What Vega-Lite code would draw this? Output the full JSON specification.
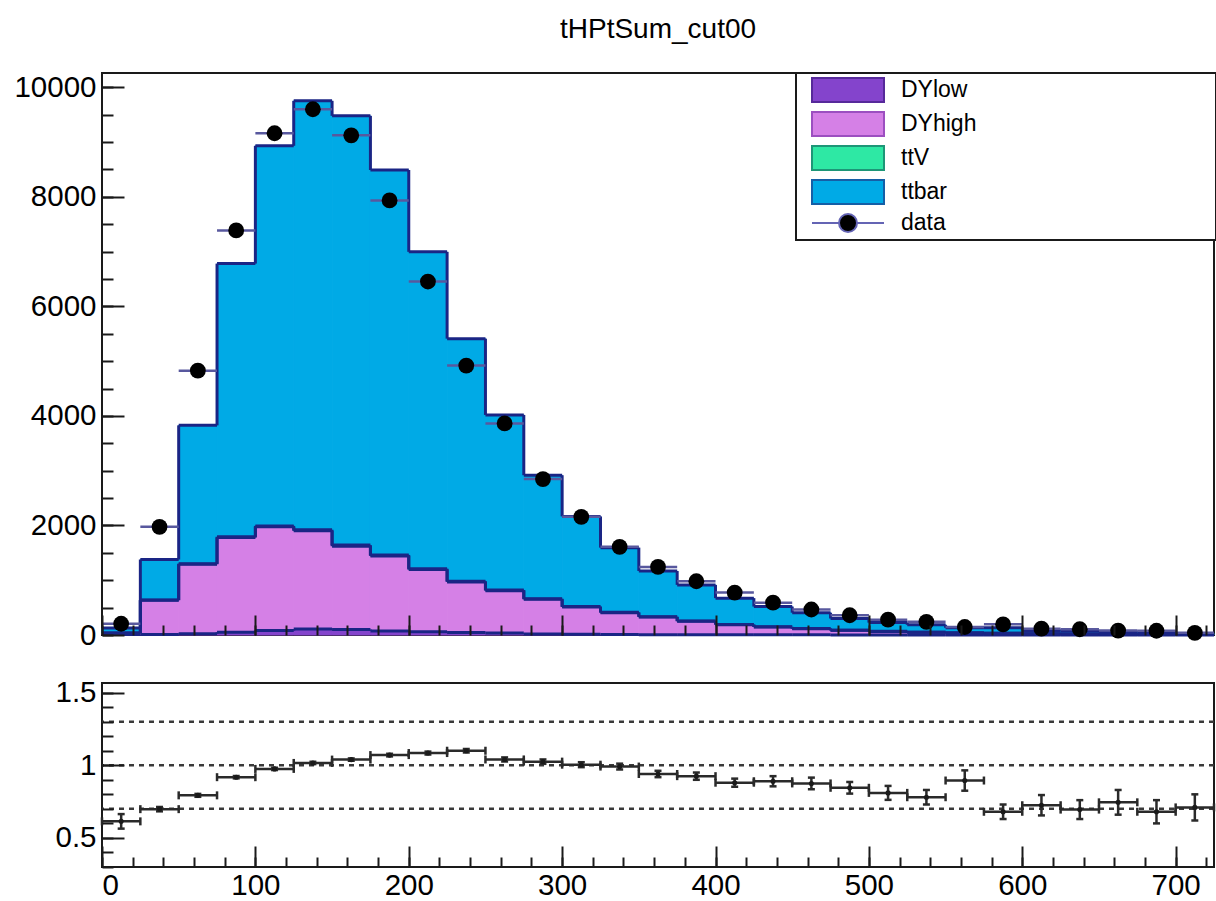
{
  "$schema": "https://vega.github.io/schema/vega-lite/v6.json",
  "background": "white",
  "padding": {"left": 12, "top": 15, "right": 0, "bottom": 0},
  "config": {
    "view": {"stroke": "#1a1a1a", "strokeWidth": 2},
    "font": "Liberation Sans",
    "axis": {"labelFont": "Liberation Sans", "labelFontSize": 29.5, "labelColor": "#000000", "domain": false, "grid": false, "tickColor": "#1a1a1a", "tickWidth": 2, "title": null}
  },
  "datasets": {
    "mc": [
      {"lo": 0, "hi": 25, "sample": "DYlow", "k": 0, "n": 10}, {"lo": 0, "hi": 25, "sample": "DYhigh", "k": 1, "n": 25}, {"lo": 0, "hi": 25, "sample": "ttV", "k": 2, "n": 1}, {"lo": 0, "hi": 25, "sample": "ttbar", "k": 3, "n": 90},
      {"lo": 25, "hi": 50, "sample": "DYlow", "k": 0, "n": 10}, {"lo": 25, "hi": 50, "sample": "DYhigh", "k": 1, "n": 624}, {"lo": 25, "hi": 50, "sample": "ttV", "k": 2, "n": 4}, {"lo": 25, "hi": 50, "sample": "ttbar", "k": 3, "n": 740},
      {"lo": 50, "hi": 75, "sample": "DYlow", "k": 0, "n": 25}, {"lo": 50, "hi": 75, "sample": "DYhigh", "k": 1, "n": 1267}, {"lo": 50, "hi": 75, "sample": "ttV", "k": 2, "n": 10}, {"lo": 50, "hi": 75, "sample": "ttbar", "k": 3, "n": 2525},
      {"lo": 75, "hi": 100, "sample": "DYlow", "k": 0, "n": 50}, {"lo": 75, "hi": 100, "sample": "DYhigh", "k": 1, "n": 1729}, {"lo": 75, "hi": 100, "sample": "ttV", "k": 2, "n": 15}, {"lo": 75, "hi": 100, "sample": "ttbar", "k": 3, "n": 4986},
      {"lo": 100, "hi": 125, "sample": "DYlow", "k": 0, "n": 80}, {"lo": 100, "hi": 125, "sample": "DYhigh", "k": 1, "n": 1894}, {"lo": 100, "hi": 125, "sample": "ttV", "k": 2, "n": 18}, {"lo": 100, "hi": 125, "sample": "ttbar", "k": 3, "n": 6939},
      {"lo": 125, "hi": 150, "sample": "DYlow", "k": 0, "n": 110}, {"lo": 125, "hi": 150, "sample": "DYhigh", "k": 1, "n": 1791}, {"lo": 125, "hi": 150, "sample": "ttV", "k": 2, "n": 20}, {"lo": 125, "hi": 150, "sample": "ttbar", "k": 3, "n": 7831},
      {"lo": 150, "hi": 175, "sample": "DYlow", "k": 0, "n": 100}, {"lo": 150, "hi": 175, "sample": "DYhigh", "k": 1, "n": 1521}, {"lo": 150, "hi": 175, "sample": "ttV", "k": 2, "n": 20}, {"lo": 150, "hi": 175, "sample": "ttbar", "k": 3, "n": 7837},
      {"lo": 175, "hi": 200, "sample": "DYlow", "k": 0, "n": 75}, {"lo": 175, "hi": 200, "sample": "DYhigh", "k": 1, "n": 1369}, {"lo": 175, "hi": 200, "sample": "ttV", "k": 2, "n": 18}, {"lo": 175, "hi": 200, "sample": "ttbar", "k": 3, "n": 7027},
      {"lo": 200, "hi": 225, "sample": "DYlow", "k": 0, "n": 60}, {"lo": 200, "hi": 225, "sample": "DYhigh", "k": 1, "n": 1134}, {"lo": 200, "hi": 225, "sample": "ttV", "k": 2, "n": 16}, {"lo": 200, "hi": 225, "sample": "ttbar", "k": 3, "n": 5785},
      {"lo": 225, "hi": 250, "sample": "DYlow", "k": 0, "n": 45}, {"lo": 225, "hi": 250, "sample": "DYhigh", "k": 1, "n": 924}, {"lo": 225, "hi": 250, "sample": "ttV", "k": 2, "n": 14}, {"lo": 225, "hi": 250, "sample": "ttbar", "k": 3, "n": 4427},
      {"lo": 250, "hi": 275, "sample": "DYlow", "k": 0, "n": 35}, {"lo": 250, "hi": 275, "sample": "DYhigh", "k": 1, "n": 775}, {"lo": 250, "hi": 275, "sample": "ttV", "k": 2, "n": 12}, {"lo": 250, "hi": 275, "sample": "ttbar", "k": 3, "n": 3196},
      {"lo": 275, "hi": 300, "sample": "DYlow", "k": 0, "n": 20}, {"lo": 275, "hi": 300, "sample": "DYhigh", "k": 1, "n": 632}, {"lo": 275, "hi": 300, "sample": "ttV", "k": 2, "n": 10}, {"lo": 275, "hi": 300, "sample": "ttbar", "k": 3, "n": 2255},
      {"lo": 300, "hi": 325, "sample": "DYlow", "k": 0, "n": 12}, {"lo": 300, "hi": 325, "sample": "DYhigh", "k": 1, "n": 500}, {"lo": 300, "hi": 325, "sample": "ttV", "k": 2, "n": 9}, {"lo": 300, "hi": 325, "sample": "ttbar", "k": 3, "n": 1644},
      {"lo": 325, "hi": 350, "sample": "DYlow", "k": 0, "n": 8}, {"lo": 325, "hi": 350, "sample": "DYhigh", "k": 1, "n": 400}, {"lo": 325, "hi": 350, "sample": "ttV", "k": 2, "n": 7}, {"lo": 325, "hi": 350, "sample": "ttbar", "k": 3, "n": 1180},
      {"lo": 350, "hi": 375, "sample": "DYlow", "k": 0, "n": 6}, {"lo": 350, "hi": 375, "sample": "DYhigh", "k": 1, "n": 323}, {"lo": 350, "hi": 375, "sample": "ttV", "k": 2, "n": 6}, {"lo": 350, "hi": 375, "sample": "ttbar", "k": 3, "n": 833},
      {"lo": 375, "hi": 400, "sample": "DYlow", "k": 0, "n": 5}, {"lo": 375, "hi": 400, "sample": "DYhigh", "k": 1, "n": 245}, {"lo": 375, "hi": 400, "sample": "ttV", "k": 2, "n": 5}, {"lo": 375, "hi": 400, "sample": "ttbar", "k": 3, "n": 660},
      {"lo": 400, "hi": 425, "sample": "DYlow", "k": 0, "n": 4}, {"lo": 400, "hi": 425, "sample": "DYhigh", "k": 1, "n": 185}, {"lo": 400, "hi": 425, "sample": "ttV", "k": 2, "n": 4}, {"lo": 400, "hi": 425, "sample": "ttbar", "k": 3, "n": 480},
      {"lo": 425, "hi": 450, "sample": "DYlow", "k": 0, "n": 3}, {"lo": 425, "hi": 450, "sample": "DYhigh", "k": 1, "n": 143}, {"lo": 425, "hi": 450, "sample": "ttV", "k": 2, "n": 3}, {"lo": 425, "hi": 450, "sample": "ttbar", "k": 3, "n": 370},
      {"lo": 450, "hi": 475, "sample": "DYlow", "k": 0, "n": 3}, {"lo": 450, "hi": 475, "sample": "DYhigh", "k": 1, "n": 113}, {"lo": 450, "hi": 475, "sample": "ttV", "k": 2, "n": 3}, {"lo": 450, "hi": 475, "sample": "ttbar", "k": 3, "n": 288},
      {"lo": 475, "hi": 500, "sample": "DYlow", "k": 0, "n": 2}, {"lo": 475, "hi": 500, "sample": "DYhigh", "k": 1, "n": 83}, {"lo": 475, "hi": 500, "sample": "ttV", "k": 2, "n": 2}, {"lo": 475, "hi": 500, "sample": "ttbar", "k": 3, "n": 214},
      {"lo": 500, "hi": 525, "sample": "DYlow", "k": 0, "n": 2}, {"lo": 500, "hi": 525, "sample": "DYhigh", "k": 1, "n": 63}, {"lo": 500, "hi": 525, "sample": "ttV", "k": 2, "n": 2}, {"lo": 500, "hi": 525, "sample": "ttbar", "k": 3, "n": 159},
      {"lo": 525, "hi": 550, "sample": "DYlow", "k": 0, "n": 1}, {"lo": 525, "hi": 550, "sample": "DYhigh", "k": 1, "n": 49}, {"lo": 525, "hi": 550, "sample": "ttV", "k": 2, "n": 1}, {"lo": 525, "hi": 550, "sample": "ttbar", "k": 3, "n": 135},
      {"lo": 550, "hi": 575, "sample": "DYlow", "k": 0, "n": 1}, {"lo": 550, "hi": 575, "sample": "DYhigh", "k": 1, "n": 37}, {"lo": 550, "hi": 575, "sample": "ttV", "k": 2, "n": 1}, {"lo": 550, "hi": 575, "sample": "ttbar", "k": 3, "n": 92},
      {"lo": 575, "hi": 600, "sample": "DYlow", "k": 0, "n": 1}, {"lo": 575, "hi": 600, "sample": "DYhigh", "k": 1, "n": 29}, {"lo": 575, "hi": 600, "sample": "ttV", "k": 2, "n": 1}, {"lo": 575, "hi": 600, "sample": "ttbar", "k": 3, "n": 102},
      {"lo": 600, "hi": 625, "sample": "DYlow", "k": 0, "n": 1}, {"lo": 600, "hi": 625, "sample": "DYhigh", "k": 1, "n": 21}, {"lo": 600, "hi": 625, "sample": "ttV", "k": 2, "n": 1}, {"lo": 600, "hi": 625, "sample": "ttbar", "k": 3, "n": 60},
      {"lo": 625, "hi": 650, "sample": "DYlow", "k": 0, "n": 1}, {"lo": 625, "hi": 650, "sample": "DYhigh", "k": 1, "n": 16}, {"lo": 625, "hi": 650, "sample": "ttV", "k": 2, "n": 1}, {"lo": 625, "hi": 650, "sample": "ttbar", "k": 3, "n": 55},
      {"lo": 650, "hi": 675, "sample": "DYlow", "k": 0, "n": 0}, {"lo": 650, "hi": 675, "sample": "DYhigh", "k": 1, "n": 13}, {"lo": 650, "hi": 675, "sample": "ttV", "k": 2, "n": 1}, {"lo": 650, "hi": 675, "sample": "ttbar", "k": 3, "n": 46},
      {"lo": 675, "hi": 700, "sample": "DYlow", "k": 0, "n": 0}, {"lo": 675, "hi": 700, "sample": "DYhigh", "k": 1, "n": 10}, {"lo": 675, "hi": 700, "sample": "ttV", "k": 2, "n": 1}, {"lo": 675, "hi": 700, "sample": "ttbar", "k": 3, "n": 42},
      {"lo": 700, "hi": 725, "sample": "DYlow", "k": 0, "n": 0}, {"lo": 700, "hi": 725, "sample": "DYhigh", "k": 1, "n": 8}, {"lo": 700, "hi": 725, "sample": "ttV", "k": 2, "n": 1}, {"lo": 700, "hi": 725, "sample": "ttbar", "k": 3, "n": 19}
    ],
    "bins": [
      {"lo": 0, "hi": 25, "c": 12.5, "data": 205, "ratio": 0.614, "rlo": 0.564, "rhi": 0.664},
      {"lo": 25, "hi": 50, "c": 37.5, "data": 1974, "ratio": 0.698, "rlo": 0.683, "rhi": 0.713},
      {"lo": 50, "hi": 75, "c": 62.5, "data": 4826, "ratio": 0.793, "rlo": 0.783, "rhi": 0.803},
      {"lo": 75, "hi": 100, "c": 87.5, "data": 7386, "ratio": 0.918, "rlo": 0.91, "rhi": 0.926},
      {"lo": 100, "hi": 125, "c": 112.5, "data": 9160, "ratio": 0.975, "rlo": 0.967, "rhi": 0.983},
      {"lo": 125, "hi": 150, "c": 137.5, "data": 9598, "ratio": 1.016, "rlo": 1.008, "rhi": 1.024},
      {"lo": 150, "hi": 175, "c": 162.5, "data": 9122, "ratio": 1.039, "rlo": 1.031, "rhi": 1.047},
      {"lo": 175, "hi": 200, "c": 187.5, "data": 7934, "ratio": 1.07, "rlo": 1.061, "rhi": 1.079},
      {"lo": 200, "hi": 225, "c": 212.5, "data": 6453, "ratio": 1.084, "rlo": 1.074, "rhi": 1.094},
      {"lo": 225, "hi": 250, "c": 237.5, "data": 4918, "ratio": 1.1, "rlo": 1.088, "rhi": 1.112},
      {"lo": 250, "hi": 275, "c": 262.5, "data": 3863, "ratio": 1.04, "rlo": 1.026, "rhi": 1.054},
      {"lo": 275, "hi": 300, "c": 287.5, "data": 2846, "ratio": 1.025, "rlo": 1.01, "rhi": 1.04},
      {"lo": 300, "hi": 325, "c": 312.5, "data": 2157, "ratio": 1.004, "rlo": 0.987, "rhi": 1.021},
      {"lo": 325, "hi": 350, "c": 337.5, "data": 1609, "ratio": 0.991, "rlo": 0.971, "rhi": 1.011},
      {"lo": 350, "hi": 375, "c": 362.5, "data": 1243, "ratio": 0.94, "rlo": 0.918, "rhi": 0.962},
      {"lo": 375, "hi": 400, "c": 387.5, "data": 981, "ratio": 0.925, "rlo": 0.9, "rhi": 0.95},
      {"lo": 400, "hi": 425, "c": 412.5, "data": 774, "ratio": 0.88, "rlo": 0.852, "rhi": 0.908},
      {"lo": 425, "hi": 450, "c": 437.5, "data": 590, "ratio": 0.89, "rlo": 0.855, "rhi": 0.925},
      {"lo": 450, "hi": 475, "c": 462.5, "data": 466, "ratio": 0.875, "rlo": 0.835, "rhi": 0.915},
      {"lo": 475, "hi": 500, "c": 487.5, "data": 360, "ratio": 0.845, "rlo": 0.805, "rhi": 0.885},
      {"lo": 500, "hi": 525, "c": 512.5, "data": 280, "ratio": 0.81, "rlo": 0.762, "rhi": 0.858},
      {"lo": 525, "hi": 550, "c": 537.5, "data": 240, "ratio": 0.78, "rlo": 0.73, "rhi": 0.83},
      {"lo": 550, "hi": 575, "c": 562.5, "data": 146, "ratio": 0.895, "rlo": 0.825, "rhi": 0.965},
      {"lo": 575, "hi": 600, "c": 587.5, "data": 195, "ratio": 0.68, "rlo": 0.63, "rhi": 0.73},
      {"lo": 600, "hi": 625, "c": 612.5, "data": 115, "ratio": 0.725, "rlo": 0.655, "rhi": 0.795},
      {"lo": 625, "hi": 650, "c": 637.5, "data": 105, "ratio": 0.695, "rlo": 0.63, "rhi": 0.76},
      {"lo": 650, "hi": 675, "c": 662.5, "data": 80, "ratio": 0.745, "rlo": 0.66, "rhi": 0.83},
      {"lo": 675, "hi": 700, "c": 687.5, "data": 78, "ratio": 0.68, "rlo": 0.6, "rhi": 0.76},
      {"lo": 700, "hi": 725, "c": 712.5, "data": 40, "ratio": 0.71, "rlo": 0.62, "rhi": 0.8}
    ],
    "refs": [{"ref": 0.7}, {"ref": 1.0}, {"ref": 1.3}]
  },
  "spacing": 25,
  "resolve": {"legend": {"color": "independent"}},
  "vconcat": [
    {
      "width": 1112,
      "height": 562,
      "title": {"text": "tHPtSum_cut00", "font": "Liberation Sans", "fontSize": 28, "fontWeight": "normal", "color": "#000000", "anchor": "middle", "frame": "group", "baseline": "alphabetic", "offset": 6},
      "resolve": {"axis": {"x": "independent", "y": "independent"}},
      "layer": [
        {
          "data": {"name": "mc"},
          "transform": [{"stack": "n", "groupby": ["lo"], "sort": [{"field": "k", "order": "ascending"}], "as": ["y0", "y1"]}],
          "mark": {"type": "rect", "strokeWidth": 1},
          "encoding": {
            "x": {"field": "lo", "type": "quantitative", "scale": {"domain": [0, 725], "nice": false, "zero": false},
                  "axis": {"orient": "bottom", "values": [0, 100, 200, 300, 400, 500, 600, 700], "labels": false, "tickSize": -20, "zindex": 1}},
            "x2": {"field": "hi"},
            "y": {"field": "y1", "type": "quantitative", "scale": {"domain": [0, 10260], "nice": false, "zero": false},
                  "axis": {"orient": "left", "values": [0, 2000, 4000, 6000, 8000, 10000], "ticks": false, "labelPadding": 6, "format": "d"}},
            "y2": {"field": "y0"},
            "stroke": {"field": "sample", "type": "nominal", "scale": {"domain": ["DYlow", "DYhigh", "ttV", "ttbar"], "range": ["#8444cc", "#d580e6", "#2ee8a4", "#00aae6"]}, "legend": null},
            "color": {
              "field": "sample", "type": "nominal",
              "scale": {"domain": ["DYlow", "DYhigh", "ttV", "ttbar", "data"], "range": ["#8444cc", "#d580e6", "#2ee8a4", "#00aae6", "#000000"]},
              "legend": {
                "orient": "none", "legendX": 694, "legendY": 0,
                "title": null, "padding": 4, "rowPadding": 2,
                "fillColor": "white", "strokeColor": "#1a1a1a",
                "labelFont": "Liberation Sans", "labelFontSize": 23, "labelColor": "#000000", "labelLimit": 0,
                "symbolSize": 576, "symbolStrokeWidth": 2, "symbolOpacity": 1,
                "symbolOffset": 35, "labelOffset": 40,
                "encode": {
                  "legend": {"update": {"strokeWidth": {"value": 2}}},
                  "symbols": {"update": {
                    "shape": {"signal": "datum.value === 'data' ? 'M-3,0H-0.75M0.75,0H3M-0.75,0A0.75,0.75,0,1,1,0.75,0A0.75,0.75,0,1,1,-0.75,0Z' : 'M-3,-1H3V1H-3ZM30,0'"},
                    "stroke": {"signal": "datum.value === 'DYlow' ? '#56299a' : datum.value === 'DYhigh' ? '#9c4fc0' : datum.value === 'ttV' ? '#1d9677' : datum.value === 'ttbar' ? '#155fa6' : '#6464b4'"}
                  }}
                }
              }
            }
          }
        },
        {
          "data": {"name": "mc"},
          "transform": [{"stack": "n", "groupby": ["lo"], "sort": [{"field": "k", "order": "ascending"}], "as": ["y0", "y1"]}],
          "mark": {"type": "rule", "color": "#1a2585", "strokeWidth": 3},
          "encoding": {
            "x": {"field": "lo", "type": "quantitative", "scale": {"domain": [0, 725], "nice": false, "zero": false},
                  "axis": {"orient": "bottom", "values": [0, 20, 40, 60, 80, 100, 120, 140, 160, 180, 200, 220, 240, 260, 280, 300, 320, 340, 360, 380, 400, 420, 440, 460, 480, 500, 520, 540, 560, 580, 600, 620, 640, 660, 680, 700, 720], "labels": false, "tickSize": -10, "zindex": 1}},
            "x2": {"field": "hi"},
            "y": {"field": "y1", "type": "quantitative", "scale": {"domain": [0, 10260], "nice": false, "zero": false},
                  "axis": {"orient": "left", "values": [0, 2000, 4000, 6000, 8000, 10000], "labels": false, "tickSize": -22, "zindex": 1}}
          }
        },
        {
          "data": {"name": "mc"},
          "transform": [
            {"stack": "n", "groupby": ["lo"], "sort": [{"field": "k", "order": "ascending"}], "as": ["y0", "y1"]},
            {"window": [{"op": "lead", "field": "y1", "as": "y1next"}], "groupby": ["sample"], "sort": [{"field": "lo", "order": "ascending"}]},
            {"filter": "isValid(datum.y1next)"}
          ],
          "mark": {"type": "rule", "color": "#1a2585", "strokeWidth": 3},
          "encoding": {
            "x": {"field": "hi", "type": "quantitative", "scale": {"domain": [0, 725], "nice": false, "zero": false}, "axis": null},
            "y": {"field": "y1", "type": "quantitative", "scale": {"domain": [0, 10260], "nice": false, "zero": false},
                  "axis": {"orient": "left", "values": [0, 500, 1000, 1500, 2000, 2500, 3000, 3500, 4000, 4500, 5000, 5500, 6000, 6500, 7000, 7500, 8000, 8500, 9000, 9500, 10000], "labels": false, "tickSize": -11, "zindex": 1}},
            "y2": {"field": "y1next"}
          }
        },
        {
          "data": {"name": "bins"},
          "mark": {"type": "rule", "color": "#58589e", "strokeWidth": 2.5},
          "encoding": {
            "x": {"field": "lo", "type": "quantitative", "scale": {"domain": [0, 725], "nice": false, "zero": false}, "axis": null},
            "x2": {"field": "hi"},
            "y": {"field": "data", "type": "quantitative", "scale": {"domain": [0, 10260], "nice": false, "zero": false}, "axis": null}
          }
        },
        {
          "data": {"name": "bins"},
          "mark": {"type": "circle", "size": 250, "opacity": 1},
          "encoding": {
            "x": {"field": "c", "type": "quantitative", "scale": {"domain": [0, 725], "nice": false, "zero": false}, "axis": null},
            "y": {"field": "data", "type": "quantitative", "scale": {"domain": [0, 10260], "nice": false, "zero": false}, "axis": null},
            "color": {"datum": "data", "type": "nominal"}
          }
        }
      ]
    },
    {
      "width": 1112,
      "height": 184,
      "resolve": {"axis": {"x": "independent", "y": "independent"}},
      "layer": [
        {
          "data": {"name": "refs"},
          "mark": {"type": "rule", "color": "#3a3a3a", "strokeWidth": 2.5, "strokeDash": [5, 5]},
          "encoding": {
            "y": {"field": "ref", "type": "quantitative", "scale": {"domain": [0.3, 1.566], "nice": false, "zero": false},
                  "axis": {"orient": "left", "values": [0.5, 1, 1.5], "ticks": false, "labelPadding": 6, "format": "~g"}}
          }
        },
        {
          "data": {"name": "bins"},
          "mark": {"type": "rule", "color": "#2a2a2a", "strokeWidth": 2.5},
          "encoding": {
            "x": {"field": "lo", "type": "quantitative", "scale": {"domain": [0, 725], "nice": false, "zero": false},
                  "axis": {"orient": "bottom", "values": [0, 100, 200, 300, 400, 500, 600, 700], "ticks": false, "labelPadding": 4, "format": "d"}},
            "x2": {"field": "hi"},
            "y": {"field": "ratio", "type": "quantitative", "scale": {"domain": [0.3, 1.566], "nice": false, "zero": false},
                  "axis": {"orient": "left", "values": [0.5, 1, 1.5], "labels": false, "tickSize": -22, "zindex": 1}}
          }
        },
        {
          "data": {"name": "bins"},
          "mark": {"type": "rule", "color": "#2a2a2a", "strokeWidth": 2.5},
          "encoding": {
            "x": {"field": "c", "type": "quantitative", "scale": {"domain": [0, 725], "nice": false, "zero": false},
                  "axis": {"orient": "bottom", "values": [0, 100, 200, 300, 400, 500, 600, 700], "labels": false, "tickSize": -21, "zindex": 1}},
            "y": {"field": "rlo", "type": "quantitative", "scale": {"domain": [0.3, 1.566], "nice": false, "zero": false},
                  "axis": {"orient": "left", "values": [0.3, 0.4, 0.5, 0.6, 0.7, 0.8, 0.9, 1.0, 1.1, 1.2, 1.3, 1.4, 1.5], "labels": false, "tickSize": -11, "zindex": 1}},
            "y2": {"field": "rhi"}
          }
        },
        {
          "data": {"name": "bins"},
          "mark": {"type": "point", "shape": "M0,-1L0,1", "size": 64, "filled": false, "color": "#2a2a2a", "strokeWidth": 2.5, "opacity": 1},
          "encoding": {
            "x": {"field": "lo", "type": "quantitative", "scale": {"domain": [0, 725], "nice": false, "zero": false},
                  "axis": {"orient": "bottom", "values": [0, 20, 40, 60, 80, 100, 120, 140, 160, 180, 200, 220, 240, 260, 280, 300, 320, 340, 360, 380, 400, 420, 440, 460, 480, 500, 520, 540, 560, 580, 600, 620, 640, 660, 680, 700, 720], "labels": false, "tickSize": -10, "zindex": 1}},
            "y": {"field": "ratio", "type": "quantitative", "scale": {"domain": [0.3, 1.566], "nice": false, "zero": false}, "axis": null}
          }
        },
        {
          "data": {"name": "bins"},
          "mark": {"type": "point", "shape": "M0,-1L0,1", "size": 64, "filled": false, "color": "#2a2a2a", "strokeWidth": 2.5, "opacity": 1},
          "encoding": {
            "x": {"field": "hi", "type": "quantitative", "scale": {"domain": [0, 725], "nice": false, "zero": false}, "axis": null},
            "y": {"field": "ratio", "type": "quantitative", "scale": {"domain": [0.3, 1.566], "nice": false, "zero": false}, "axis": null}
          }
        },
        {
          "data": {"name": "bins"},
          "mark": {"type": "point", "shape": "M-1,0L1,0", "size": 49, "filled": false, "color": "#2a2a2a", "strokeWidth": 2.5, "opacity": 1},
          "encoding": {
            "x": {"field": "c", "type": "quantitative", "scale": {"domain": [0, 725], "nice": false, "zero": false}, "axis": null},
            "y": {"field": "rlo", "type": "quantitative", "scale": {"domain": [0.3, 1.566], "nice": false, "zero": false}, "axis": null}
          }
        },
        {
          "data": {"name": "bins"},
          "mark": {"type": "point", "shape": "M-1,0L1,0", "size": 49, "filled": false, "color": "#2a2a2a", "strokeWidth": 2.5, "opacity": 1},
          "encoding": {
            "x": {"field": "c", "type": "quantitative", "scale": {"domain": [0, 725], "nice": false, "zero": false}, "axis": null},
            "y": {"field": "rhi", "type": "quantitative", "scale": {"domain": [0.3, 1.566], "nice": false, "zero": false}, "axis": null}
          }
        },
        {
          "data": {"name": "bins"},
          "mark": {"type": "circle", "size": 26, "color": "#1a1a1a", "opacity": 1},
          "encoding": {
            "x": {"field": "c", "type": "quantitative", "scale": {"domain": [0, 725], "nice": false, "zero": false}, "axis": null},
            "y": {"field": "ratio", "type": "quantitative", "scale": {"domain": [0.3, 1.566], "nice": false, "zero": false}, "axis": null}
          }
        }
      ]
    }
  ]
}
